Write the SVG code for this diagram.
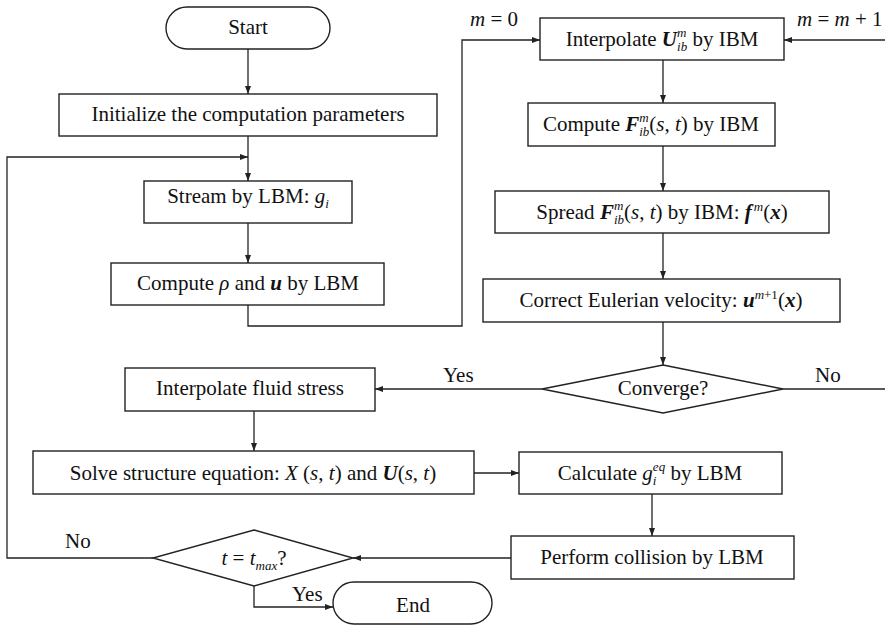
<svg xmlns="http://www.w3.org/2000/svg" width="885" height="625" viewBox="0 0 885 625">
<defs>
<marker id="ah" viewBox="0 0 8 6" refX="8" refY="3" markerWidth="8" markerHeight="6" markerUnits="userSpaceOnUse" orient="auto">
<path d="M0,0 L8,3 L0,6 z" fill="#222"/>
</marker>
<style>
.box{fill:#fff;stroke:#222;stroke-width:1.4}
.t{font-family:"Liberation Serif","Times New Roman",serif;font-size:21px;fill:#111;text-anchor:middle}
.l{font-family:"Liberation Serif","Times New Roman",serif;font-size:21px;fill:#111}
.i{font-style:italic}
.b{font-weight:bold;font-style:italic}
.s{font-size:13px}
.c{fill:none;stroke:#222;stroke-width:1.3}
.a{marker-end:url(#ah)}
</style>
</defs>
<rect width="885" height="625" fill="#fff"/>
<g id="connectors">
<path class="c a" d="M248,49 V94"/>
<path class="c a" d="M248,136 V181"/>
<path class="c a" d="M153,558 H7 V157 H248"/>
<path class="c a" d="M248,223 V263"/>
<path class="c a" d="M248,305 V326 H462 V40 H540"/>
<path class="c a" d="M885,40 H784"/>
<path class="c" d="M783,389 H885"/>
<path class="c a" d="M663,60 V103"/>
<path class="c a" d="M663,146 V191"/>
<path class="c a" d="M663,233 V279"/>
<path class="c a" d="M663,322 V365"/>
<path class="c a" d="M542,389 H375"/>
<path class="c a" d="M254,411 V451"/>
<path class="c a" d="M474,473 H519"/>
<path class="c a" d="M652,494 V536"/>
<path class="c a" d="M511,558 H353"/>
<path class="c a" d="M254,586 V607 H333"/>
</g>
<g id="labels">
<text class="l" x="470" y="26"><tspan class="i">m</tspan> = 0</text>
<text class="l" x="797" y="26"><tspan class="i">m</tspan> = <tspan class="i">m</tspan> + 1</text>
<text class="l" x="443" y="382">Yes</text>
<text class="l" x="815" y="382">No</text>
<text class="l" x="65" y="548">No</text>
<text class="l" x="292" y="601">Yes</text>
</g>
<g id="start">
<rect class="box" x="166" y="7" width="164" height="42" rx="21"/>
<text class="t" x="248" y="34">Start</text>
</g>
<g id="init">
<rect class="box" x="59" y="94" width="378" height="42"/>
<text class="t" x="248" y="121">Initialize the computation parameters</text>
</g>
<g id="stream">
<rect class="box" x="144" y="181" width="208" height="42"/>
<text class="t" x="248" y="203">Stream by LBM: <tspan class="i">g</tspan><tspan class="i s" dy="5">i</tspan></text>
</g>
<g id="compute-rho">
<rect class="box" x="111" y="263" width="273" height="42"/>
<text class="t" x="248" y="290">Compute <tspan class="i">ρ</tspan> and <tspan class="b">u</tspan> by LBM</text>
</g>
<g id="interp-u">
<rect class="box" x="540" y="18" width="244" height="42"/>
<text class="t" x="662" y="46">Interpolate <tspan class="b">U</tspan><tspan class="i s" dy="-9.5">m</tspan><tspan class="i s" dx="-9.4" dy="14.5">ib</tspan><tspan dy="-5"> by IBM</tspan></text>
</g>
<g id="compute-f">
<rect class="box" x="528" y="103" width="247" height="43"/>
<text class="t" x="651" y="131">Compute <tspan class="b">F</tspan><tspan class="i s" dy="-9.5">m</tspan><tspan class="i s" dx="-9.4" dy="14.5">ib</tspan><tspan dy="-5">(</tspan><tspan class="i">s</tspan>, <tspan class="i">t</tspan>) by IBM</text>
</g>
<g id="spread">
<rect class="box" x="495" y="191" width="334" height="42"/>
<text class="t" x="662" y="219">Spread <tspan class="b">F</tspan><tspan class="i s" dy="-9.5">m</tspan><tspan class="i s" dx="-9.4" dy="14.5">ib</tspan><tspan dy="-5">(</tspan><tspan class="i">s</tspan>, <tspan class="i">t</tspan>) by IBM: <tspan class="b">f</tspan><tspan class="i s" dx="2" dy="-8">m</tspan><tspan dy="8">(</tspan><tspan class="b">x</tspan>)</text>
</g>
<g id="correct">
<rect class="box" x="483" y="279" width="357" height="43"/>
<text class="t" x="661" y="307">Correct Eulerian velocity: <tspan class="b">u</tspan><tspan class="s" dy="-8"><tspan class="i">m</tspan>+1</tspan><tspan dy="8">(</tspan><tspan class="b">x</tspan>)</text>
</g>
<g id="converge">
<path class="box" d="M663,365 L783,389 L663,413 L542,389 Z"/>
<text class="t" x="663" y="395">Converge?</text>
</g>
<g id="interp-stress">
<rect class="box" x="125" y="368" width="250" height="43"/>
<text class="t" x="250" y="395">Interpolate fluid stress</text>
</g>
<g id="solve">
<rect class="box" x="33" y="451" width="441" height="43"/>
<text class="t" x="253" y="480">Solve structure equation: <tspan class="i">X</tspan> (<tspan class="i">s</tspan>, <tspan class="i">t</tspan>) and <tspan class="b">U</tspan>(<tspan class="i">s</tspan>, <tspan class="i">t</tspan>)</text>
</g>
<g id="calc">
<rect class="box" x="519" y="452" width="263" height="42"/>
<text class="t" x="650" y="480">Calculate <tspan class="i">g</tspan><tspan class="i s" dy="-9.5">eq</tspan><tspan class="i s" dx="-12.3" dy="14.5">i</tspan><tspan dx="8.7" dy="-5"> by LBM</tspan></text>
</g>
<g id="collision">
<rect class="box" x="511" y="536" width="283" height="43"/>
<text class="t" x="652" y="564">Perform collision by LBM</text>
</g>
<g id="tmax">
<path class="box" d="M254,530 L353,558 L254,586 L153,558 Z"/>
<text class="t" x="254" y="565"><tspan class="i">t</tspan> = <tspan class="i">t</tspan><tspan class="i s" dy="5">max</tspan><tspan dy="-5">?</tspan></text>
</g>
<g id="end">
<rect class="box" x="333" y="582" width="159" height="42" rx="21"/>
<text class="t" x="413" y="612">End</text>
</g>
</svg>
